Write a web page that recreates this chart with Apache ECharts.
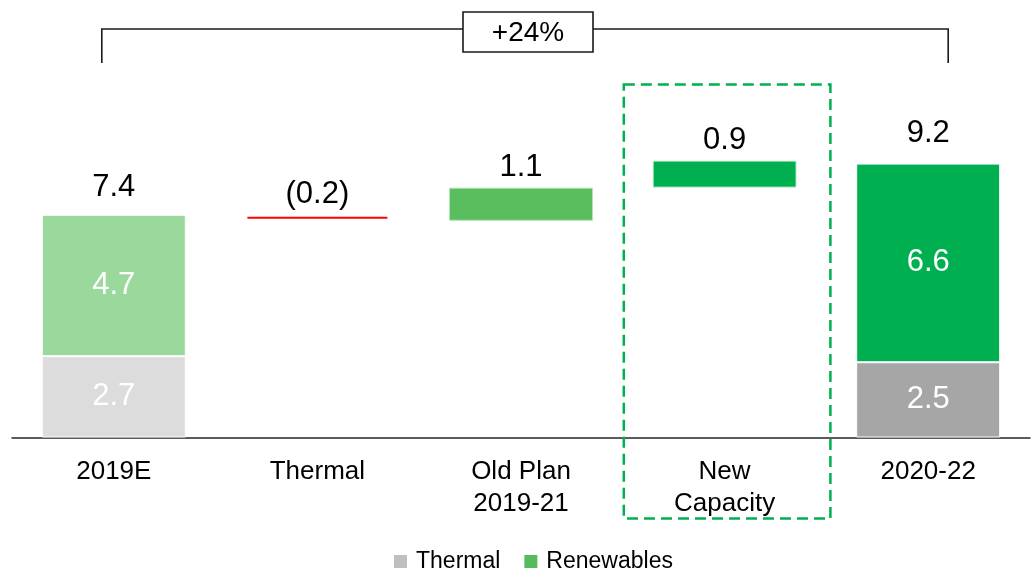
<!DOCTYPE html>
<html>
<head>
<meta charset="utf-8">
<script src="https://cdn.jsdelivr.net/npm/echarts@6/dist/echarts.min.js"></script>
<style>
  html, body { margin: 0; padding: 0; background: #ffffff; }
  #chart { width: 1033px; height: 571px; }
</style>
</head>
<body>
<div id="chart"></div>
<script>
// Capacity bridge: opening mix, movements, closing mix
const categories = ['2019E', 'Thermal', 'Old Plan\n2019-21', 'New\nCapacity', '2020-22'];
const openingMix = [2.7, 4.7];          // Thermal, Renewables (2019E)
const closingMix = [2.5, 6.6];          // Thermal, Renewables (2020-22)
const bridgeSteps = [-0.2, 1.1, 0.9];   // Thermal, Old Plan 2019-21, New Capacity
const totals = [7.4, 9.2];              // 2019E, 2020-22

const FONT = '"Liberation Sans", Arial, Helvetica, sans-serif';
const C = {
  thermalLight: '#dcdcdc',
  thermalDark: '#a6a6a6',
  renewLight: '#9ad89c',
  renewMid: '#58be5e',
  renewDark: '#00b050',
  negative: '#ff0000'
};

const fmt = v => v < 0 ? '(' + Math.abs(v).toFixed(1) + ')' : v.toFixed(1);

// floating bases for the bridge steps
const baseData = ['-'];
const stepHeights = [];
let running = totals[0];
bridgeSteps.forEach(s => {
  baseData.push(s < 0 ? running + s : running);
  stepHeights.push(Math.abs(s));
  running += s;
});
baseData.push('-');

const insideLabel = { show: true, position: 'inside', color: '#ffffff', fontSize: 31, fontFamily: FONT };
const topLabel = txt => ({ show: true, position: 'top', distance: 5, color: '#000000', fontSize: 31, fontFamily: FONT, formatter: txt });

const thermalData = [
  { value: openingMix[0], itemStyle: { color: C.thermalLight, borderColor: '#fff', borderWidth: 1 }, label: insideLabel },
  { value: stepHeights[0], itemStyle: { color: C.negative, borderColor: '#fff', borderWidth: 2 }, label: topLabel(fmt(bridgeSteps[0])) },
  '-',
  '-',
  { value: closingMix[0], itemStyle: { color: C.thermalDark, borderColor: '#fff', borderWidth: 1 }, label: insideLabel }
];

const renewData = [
  { value: openingMix[1], itemStyle: { color: C.renewLight, borderColor: '#fff', borderWidth: 1 }, label: insideLabel },
  '-',
  { value: stepHeights[1], itemStyle: { color: C.renewMid, borderColor: '#b5e1b7', borderWidth: 1 }, label: topLabel(fmt(bridgeSteps[1])) },
  { value: stepHeights[2], itemStyle: { color: C.renewDark, borderColor: '#d8f0dc', borderWidth: 1 }, label: topLabel(fmt(bridgeSteps[2])) },
  { value: closingMix[1], itemStyle: { color: C.renewDark, borderColor: '#fff', borderWidth: 1 }, label: insideLabel }
];

const totalData = [totals[0], '-', '-', '-', totals[1]];
const growthPct = Math.round((totals[1] / totals[0] - 1) * 100);

const chart = echarts.init(document.getElementById('chart'), null, { renderer: 'canvas' });

const option = {
  backgroundColor: '#ffffff',
  animation: false,
  textStyle: { fontFamily: FONT },
  grid: { left: 12, right: 3, top: 136.5, bottom: 133.5, containLabel: false },
  legend: {
    data: [
      { name: 'Thermal', itemStyle: { color: '#bfbfbf' } },
      { name: 'Renewables', itemStyle: { color: '#57bb5d' } }
    ],
    selectedMode: false,
    icon: 'rect',
    itemWidth: 13,
    itemHeight: 13,
    itemGap: 24,
    left: 389,
    top: 545,
    textStyle: { fontSize: 23, color: '#000', fontFamily: FONT, padding: [0, 0, 0, 4] }
  },
  xAxis: {
    type: 'category',
    data: categories,
    axisLine: { show: true, lineStyle: { color: '#262626', width: 1.5 } },
    axisTick: { show: false },
    axisLabel: { color: '#000', fontSize: 26, lineHeight: 32, margin: 18, fontFamily: FONT, interval: 0 }
  },
  yAxis: {
    type: 'value',
    min: 0,
    max: 10,
    show: false,
    splitLine: { show: false }
  },
  series: [
    {
      name: 'base',
      type: 'bar',
      stack: 'bridge',
      barWidth: 144,
      silent: true,
      itemStyle: { color: 'rgba(0,0,0,0)' },
      data: baseData
    },
    {
      name: 'Thermal',
      type: 'bar',
      stack: 'bridge',
      barWidth: 144,
      data: thermalData
    },
    {
      name: 'Renewables',
      type: 'bar',
      stack: 'bridge',
      barWidth: 144,
      data: renewData
    },
    {
      name: 'total',
      type: 'scatter',
      symbolSize: 0,
      silent: true,
      itemStyle: { opacity: 1 },
      label: {
        show: true, position: 'top', distance: 12, color: '#000', fontSize: 31, fontFamily: FONT,
        formatter: p => p.value.toFixed(1)
      },
      data: totalData
    }
  ]
};

chart.setOption(option);

// annotations placed from the axis positions
const axisY0 = chart.convertToPixel({ gridIndex: 0 }, [0, 0])[1];
const cx = i => chart.convertToPixel({ gridIndex: 0 }, [i, 0])[0];
const band = cx(1) - cx(0);

const bracketL = cx(0) - 12;
const bracketR = cx(4) + 20;
const bracketY = 29;
const bracketDrop = 63;
const boxW = 130, boxH = 40, boxCx = 528, boxTop = 12;

chart.setOption({
  graphic: [
    {
      type: 'polyline',
      shape: { points: [[bracketL, bracketDrop], [bracketL, bracketY], [bracketR, bracketY], [bracketR, bracketDrop]] },
      style: { stroke: '#1a1a1a', lineWidth: 1.6, fill: null },
      z: 10
    },
    {
      type: 'rect',
      shape: { x: boxCx - boxW / 2, y: boxTop, width: boxW, height: boxH },
      style: { fill: '#ffffff', stroke: '#1a1a1a', lineWidth: 1.6 },
      z: 11
    },
    {
      type: 'text',
      x: boxCx,
      y: boxTop + boxH / 2 + 1,
      style: {
        text: '+' + growthPct + '%',
        fill: '#000',
        font: '28px ' + FONT,
        align: 'center',
        verticalAlign: 'middle'
      },
      z: 12
    },
    {
      type: 'rect',
      shape: { x: cx(3) - band / 2 + 1, y: axisY0 - 353, width: band + 3, height: 434 },
      style: { fill: null, stroke: '#00b050', lineWidth: 2.5, lineDash: [11, 6] },
      z: 9
    }
  ]
});
</script>
</body>
</html>
